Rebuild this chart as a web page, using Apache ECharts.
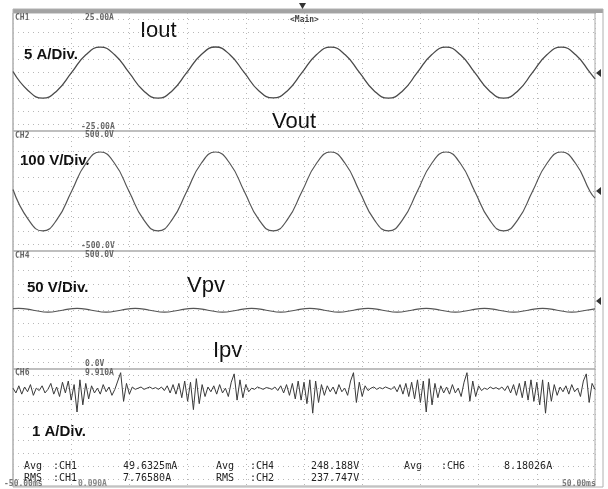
<!DOCTYPE html>
<html>
<head>
<meta charset="utf-8">
<script src="https://cdn.jsdelivr.net/npm/echarts@6/dist/echarts.min.js"></script>
<style>
  html, body { margin: 0; padding: 0; background: #fff; }
  #main { width: 608px; height: 489px; }
</style>
</head>
<body>
<div id="main"></div>
<script>
// time in ms, -50 .. 50 (10 ms/div)
const sineT = [-50, -47.38, -44.9, -42.43, -39.95, -37.48, -35.0, -32.53, -30.05, -27.58,
  -25.1, -22.63, -20.15, -17.68, -15.2, -12.73, -10.25, -7.78, -5.3, -2.83,
  -0.35, 2.13, 4.6, 7.08, 9.55, 12.03, 14.5, 16.98, 19.45, 21.93,
  24.4, 26.88, 29.35, 31.83, 34.3, 36.78, 39.25, 41.73, 44.2, 46.68, 49.15, 50];
// CH1 Iout (A)
const ioutV = [0.2, -7.9, -11.1, -7.9, -0.3, 7.3, 10.5, 7.3, -0.3, -7.9,
  -11.1, -7.9, -0.3, 7.3, 10.6, 7.3, -0.3, -7.9, -11.0, -7.9,
  -0.3, 7.3, 10.5, 7.3, -0.3, -7.9, -11.1, -7.9, -0.3, 7.3,
  10.5, 7.3, -0.3, -7.9, -11.1, -7.9, -0.3, 7.3, 10.5, 7.3, -0.3, -2.9];
// CH2 Vout (V)
const voutV = [12, -237, -333, -237, -4, 229, 325, 229, -4, -237,
  -333, -237, -4, 229, 325, 229, -4, -237, -333, -237,
  -4, 229, 325, 229, -4, -237, -333, -237, -4, 229,
  325, 229, -4, -237, -333, -237, -4, 229, 325, 229, -4, -60];
// CH4 Vpv (V)
const vpvT = [-50, -49, -46.5, -44, -41.5, -39, -36.5, -34, -31.5, -29,
  -26.5, -24, -21.5, -19, -16.5, -14, -11.5, -9, -6.5, -4,
  -1.5, 1, 3.5, 6, 8.5, 11, 13.5, 16, 18.5, 21,
  23.5, 26, 28.5, 31, 33.5, 36, 38.5, 41, 43.5, 46, 48.5, 50];
const vpvV = [256, 257, 249, 241, 249, 257, 249, 241, 249, 257,
  249, 241, 249, 257, 249, 241, 249, 257, 249, 241,
  249, 257, 249, 241, 249, 257, 249, 241, 249, 257,
  249, 241, 249, 257, 249, 241, 249, 257, 249, 241, 249, 255];
// CH6 Ipv (A), one sample every 0.5 ms from -50 ms
const ipvV = [
  8.3, 7.9, 8.5, 7.8, 8.4, 8.0, 8.6, 7.7, 8.3, 8.1,
  8.5, 7.9, 8.2, 8.7, 7.8, 8.4, 7.6, 8.8, 7.9, 8.9,
  7.3, 8.6, 6.3, 9.0, 6.9, 8.7, 7.4, 8.5, 7.9, 8.3,
  7.8, 8.6, 8.0, 8.4, 7.7, 8.2, 8.9, 9.6, 7.2, 8.7,
  7.8, 8.4, 8.2, 8.3, 8.4, 8.2, 8.3, 8.4, 8.25, 8.35,
  8.2, 8.4, 8.1, 8.5, 7.9, 8.6, 7.8, 8.7, 7.5, 8.9,
  7.2, 8.8, 6.5, 9.1, 7.0, 8.6, 7.6, 8.4, 8.0, 8.5,
  7.8, 8.6, 7.9, 8.3, 7.6, 8.8, 9.5, 7.3, 9.0, 7.5,
  8.6, 8.0, 8.3, 8.2, 8.4, 8.3, 8.2, 8.35, 8.3, 8.2,
  8.4, 8.1, 8.5, 7.9, 8.6, 7.7, 8.7, 7.4, 8.9, 7.3,
  8.8, 7.0, 9.0, 6.2, 8.9, 7.1, 8.6, 7.7, 8.5, 8.0,
  8.4, 7.8, 8.6, 8.0, 8.3, 7.7, 8.9, 9.6, 7.1, 8.8,
  7.6, 8.5, 8.1, 8.3, 8.4, 8.2, 8.35, 8.25, 8.4, 8.3,
  8.2, 8.45, 8.0, 8.6, 7.8, 8.7, 7.6, 8.8, 7.4, 9.0,
  7.1, 8.9, 6.3, 9.1, 6.9, 8.7, 7.5, 8.5, 7.9, 8.4,
  7.8, 8.6, 7.9, 8.3, 7.6, 8.8, 9.6, 7.2, 8.9, 7.6,
  8.5, 8.1, 8.3, 8.2, 8.4, 8.25, 8.35, 8.2, 8.4, 8.1,
  8.5, 7.9, 8.6, 7.7, 8.7, 7.5, 8.9, 7.3, 9.0, 7.2,
  8.8, 6.9, 9.0, 6.2, 8.8, 7.2, 8.6, 7.7, 8.4, 8.0,
  8.5, 7.8, 8.6, 8.0, 8.3, 7.6, 8.9, 9.5, 7.1, 8.7,
  8.2];

const ranges = [[-25, 25], [-500, 500], [0, 500], [0.09, 9.91]];
const panels = [[13, 118], [131, 120], [251, 118], [369, 117]]; // top, height
const dots = { type: [1, 4], color: '#b8b8b8', width: 1 };

const chart = echarts.init(document.getElementById('main'));

const grids = [], xAxes = [], yAxes = [];
panels.forEach(function (p, i) {
  grids.push({ left: 13, right: 13, top: p[0], height: p[1], show: true,
    borderColor: '#a9a9a9', borderWidth: 1, backgroundColor: 'transparent' });
  xAxes.push({ gridIndex: i, type: 'value', min: -50, max: 50, interval: 10,
    axisLine: { show: false }, axisTick: { show: false }, axisLabel: { show: false },
    splitLine: { show: true, lineStyle: dots } });
  yAxes.push({ gridIndex: i, type: 'value', min: ranges[i][0], max: ranges[i][1],
    axisLine: { show: false }, axisTick: { show: false }, axisLabel: { show: false },
    splitLine: { show: false } });
});
// dotted row lines, 9 per panel at half offsets
panels.forEach(function (p, i) {
  const step = p[1] / 9;
  grids.push({ left: 13, right: 13, top: p[0] + step / 2, height: step * 8 });
  xAxes.push({ gridIndex: 4 + i, type: 'value', min: 0, max: 1, show: false });
  yAxes.push({ gridIndex: 4 + i, type: 'value', min: 0, max: 8, interval: 1,
    axisLine: { show: false }, axisTick: { show: false }, axisLabel: { show: false },
    splitLine: { show: true, lineStyle: dots } });
});

function pairs(ts, vs) { return ts.map(function (t, i) { return [t, vs[i]]; }); }
const ipvT = ipvV.map(function (v, i) { return -50 + 0.5 * i; });

function wave(idx, data, smooth, width, color) {
  return { type: 'line', xAxisIndex: idx, yAxisIndex: idx, data: data, smooth: smooth,
    showSymbol: false, silent: true, animation: false,
    lineStyle: { color: color, width: width } };
}

function txt(x, y, s, font, fill) {
  return { type: 'text', x: x, y: y, silent: true,
    style: { text: s, font: font, fill: fill, verticalAlign: 'middle' } };
}
const scopeFont = 'bold 8px "DejaVu Sans Mono"';
const measFont = '10px "DejaVu Sans Mono"';
const bigFont = '22px "Liberation Sans"';
const divFont = 'bold 15px "Liberation Sans"';

const graphics = [
  { type: 'rect', shape: { x: 13, y: 9, width: 590, height: 4 }, style: { fill: '#a3a3a3' } },
  { type: 'rect', shape: { x: 13, y: 9, width: 590, height: 478 }, style: { fill: 'none', stroke: '#b0b0b0', lineWidth: 1 } },
  { type: 'polygon', shape: { points: [[299, 3], [306, 3], [302.5, 9]] }, style: { fill: '#333' } },
  { type: 'polygon', shape: { points: [[601, 69], [596, 73], [601, 77]] }, style: { fill: '#333' } },
  { type: 'polygon', shape: { points: [[601, 187], [596, 191], [601, 195]] }, style: { fill: '#333' } },
  { type: 'polygon', shape: { points: [[601, 297], [596, 301], [601, 305]] }, style: { fill: '#333' } },
  txt(15, 18, 'CH1', scopeFont, '#666'), txt(85, 18, '25.00A', scopeFont, '#666'),
  txt(290, 20, '<Main>', scopeFont, '#444'),
  txt(81, 127, '-25.00A', scopeFont, '#666'),
  txt(15, 136, 'CH2', scopeFont, '#666'), txt(85, 135, '500.0V', scopeFont, '#666'),
  txt(81, 246, '-500.0V', scopeFont, '#666'),
  txt(15, 256, 'CH4', scopeFont, '#666'), txt(85, 255, '500.0V', scopeFont, '#666'),
  txt(85, 364, '0.0V', scopeFont, '#666'),
  txt(15, 373, 'CH6', scopeFont, '#666'), txt(85, 373, '9.910A', scopeFont, '#666'),
  txt(78, 484, '0.090A', scopeFont, '#888'),
  txt(4, 484, '-50.00ms', scopeFont, '#777'),
  txt(562, 484, '50.00ms', scopeFont, '#777'),
  txt(24, 466, 'Avg', measFont, '#222'), txt(53, 466, ':CH1', measFont, '#222'),
  txt(123, 466, '49.6325mA', measFont, '#222'),
  txt(216, 466, 'Avg', measFont, '#222'), txt(250, 466, ':CH4', measFont, '#222'),
  txt(311, 466, '248.188V', measFont, '#222'),
  txt(404, 466, 'Avg', measFont, '#222'), txt(441, 466, ':CH6', measFont, '#222'),
  txt(504, 466, '8.18026A', measFont, '#222'),
  txt(24, 478, 'RMS', measFont, '#222'), txt(53, 478, ':CH1', measFont, '#222'),
  txt(123, 478, '7.76580A', measFont, '#222'),
  txt(216, 478, 'RMS', measFont, '#222'), txt(250, 478, ':CH2', measFont, '#222'),
  txt(311, 478, '237.747V', measFont, '#222'),
  txt(140, 31, 'Iout', bigFont, '#111'),
  txt(24, 55, '5 A/Div.', divFont, '#111'),
  txt(272, 122, 'Vout', bigFont, '#111'),
  txt(20, 161, '100 V/Div.', divFont, '#111'),
  txt(27, 288, '50 V/Div.', divFont, '#111'),
  txt(187, 286, 'Vpv', bigFont, '#111'),
  txt(213, 351, 'Ipv', bigFont, '#111'),
  txt(32, 432, '1 A/Div.', divFont, '#111')
];

chart.setOption({
  animation: false,
  backgroundColor: '#fff',
  grid: grids,
  xAxis: xAxes,
  yAxis: yAxes,
  series: [
    wave(0, pairs(sineT, ioutV), true, 1.3, '#4a4a4a'),
    wave(1, pairs(sineT, voutV), true, 1.2, '#555'),
    wave(2, pairs(vpvT, vpvV), true, 1.2, '#555'),
    wave(3, pairs(ipvT, ipvV), false, 1, '#3a3a3a')
  ],
  graphic: graphics
});
</script>
</body>
</html>
